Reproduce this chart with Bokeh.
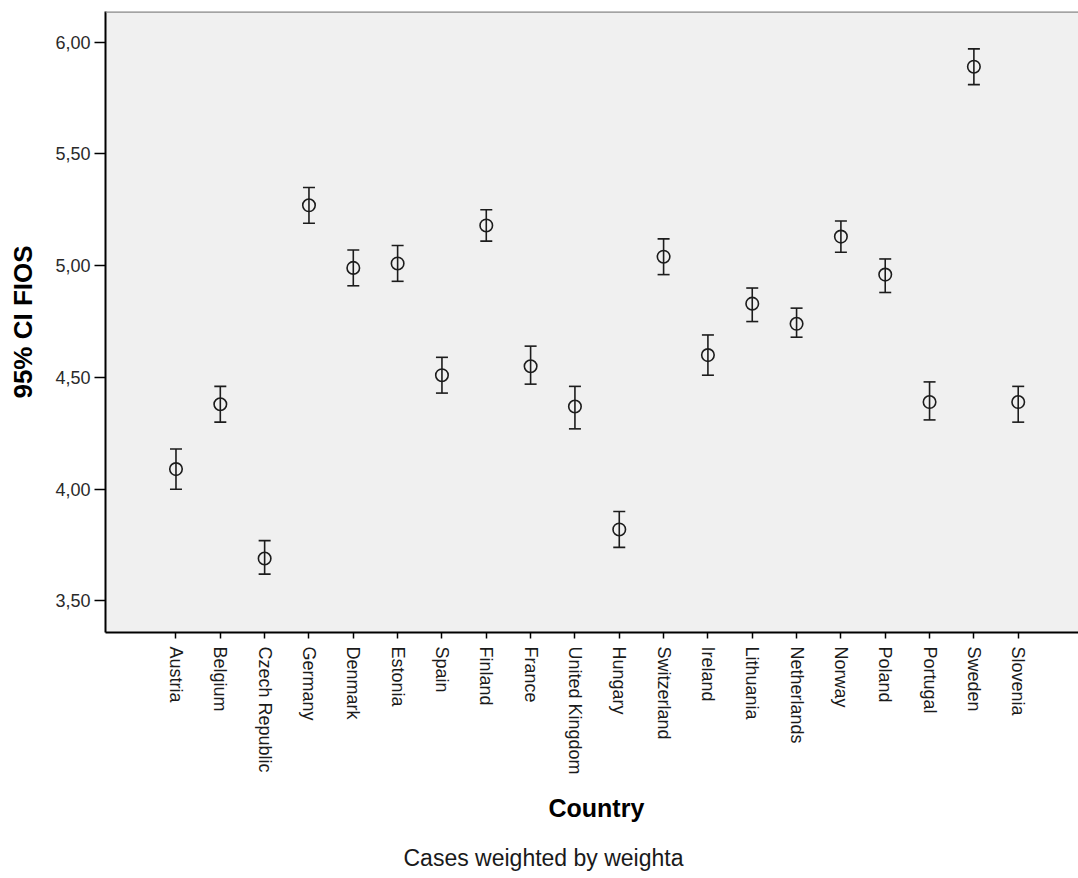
import math
from bokeh.plotting import figure
from bokeh.models import (ColumnDataSource, Range1d, FixedTicker, Whisker,
                          TeeHead, Span, Title)
from bokeh.embed import file_html
from bokeh.resources import INLINE

# ---------------- data ----------------
countries = ["Austria", "Belgium", "Czech Republic", "Germany", "Denmark",
             "Estonia", "Spain", "Finland", "France", "United Kingdom",
             "Hungary", "Switzerland", "Ireland", "Lithuania", "Netherlands",
             "Norway", "Poland", "Portugal", "Sweden", "Slovenia"]
mean_fios = [4.09, 4.38, 3.69, 5.27, 4.99, 5.01, 4.51, 5.18, 4.55, 4.37,
             3.82, 5.04, 4.60, 4.83, 4.74, 5.13, 4.96, 4.39, 5.89, 4.39]
upper_ci = [4.18, 4.46, 3.77, 5.35, 5.07, 5.09, 4.59, 5.25, 4.64, 4.46,
            3.90, 5.12, 4.69, 4.90, 4.81, 5.20, 5.03, 4.48, 5.97, 4.46]
lower_ci = [4.00, 4.30, 3.62, 5.19, 4.91, 4.93, 4.43, 5.11, 4.47, 4.27,
            3.74, 4.96, 4.51, 4.75, 4.68, 5.06, 4.88, 4.31, 5.81, 4.30]
y_ticks = [3.5, 4.0, 4.5, 5.0, 5.5, 6.0]
y_tick_labels = ["3,50", "4,00", "4,50", "5,00", "5,50", "6,00"]
y_title = "95% CI FIOS"
x_title = "Country"
footnote = "Cases weighted by weighta"

# ---------------- figure ----------------
FONT = "Liberation Sans"
INK = "#1c1c1c"
x_idx = list(range(len(countries)))

src = ColumnDataSource(dict(x=x_idx, mean=mean_fios, upper=upper_ci, lower=lower_ci))

y_lo, y_hi = 3.359, 6.137
p = figure(width=1078, height=878, output_backend="svg", toolbar_location=None,
           x_range=Range1d(-1.59, 20.36), y_range=Range1d(y_lo, y_hi),
           min_border_left=105, min_border_top=11, min_border_right=0,
           min_border_bottom=246)
p.background_fill_color = "#f0f0f0"
p.border_fill_color = "white"
p.outline_line_color = None
p.xgrid.grid_line_color = None
p.ygrid.grid_line_color = None

# top border of the frame
p.add_layout(Span(location=y_hi, dimension="width", line_color="#8a8a8a", line_width=2.5))

wh = Whisker(base="x", upper="upper", lower="lower", source=src,
             line_color=INK, line_width=1.6,
             upper_head=TeeHead(size=12, line_color=INK, line_width=1.6),
             lower_head=TeeHead(size=12, line_color=INK, line_width=1.6))
p.add_layout(wh)
p.scatter("x", "mean", source=src, marker="circle", size=12.5,
          fill_color=None, line_color=INK, line_width=1.6)

# y axis
ya = p.yaxis[0]
ya.ticker = FixedTicker(ticks=y_ticks)
ya.major_label_overrides = {t: l for t, l in zip(y_ticks, y_tick_labels)}
ya.major_label_text_font = FONT
ya.major_label_text_font_size = "18px"
ya.major_label_text_color = "#2a2a2a"
ya.major_label_standoff = 4
ya.major_tick_out = 11
ya.major_tick_in = 0
ya.minor_tick_out = 0
ya.minor_tick_in = 0
ya.major_tick_line_color = "black"
ya.major_tick_line_width = 1.5
ya.axis_line_color = "black"
ya.axis_line_width = 2
ya.axis_label = y_title
ya.axis_label_text_font = FONT
ya.axis_label_text_font_style = "bold"
ya.axis_label_text_font_size = "26px"
ya.axis_label_text_color = "black"
ya.axis_label_standoff = 14

# x axis
xa = p.xaxis[0]
xa.ticker = FixedTicker(ticks=x_idx)
xa.major_label_overrides = {i: c for i, c in zip(x_idx, countries)}
xa.major_label_orientation = -math.pi / 2
xa.major_label_text_font = FONT
xa.major_label_text_font_size = "18px"
xa.major_label_text_color = "#1a1a1a"
xa.major_label_standoff = 8
xa.major_tick_out = 6
xa.major_tick_in = 0
xa.minor_tick_out = 0
xa.minor_tick_in = 0
xa.major_tick_line_color = "black"
xa.major_tick_line_width = 1.5
xa.axis_line_color = "black"
xa.axis_line_width = 2

p.add_layout(Title(text=x_title, align="left", offset=443, standoff=29,
                   text_font=FONT, text_font_size="25px", text_font_style="bold",
                   text_color="black"), "below")
p.add_layout(Title(text=footnote, align="left", offset=298, standoff=12,
                   text_font=FONT, text_font_size="23px", text_font_style="normal",
                   text_color="#1a1a1a"), "below")

open("out.html", "w").write(file_html(p, INLINE))
